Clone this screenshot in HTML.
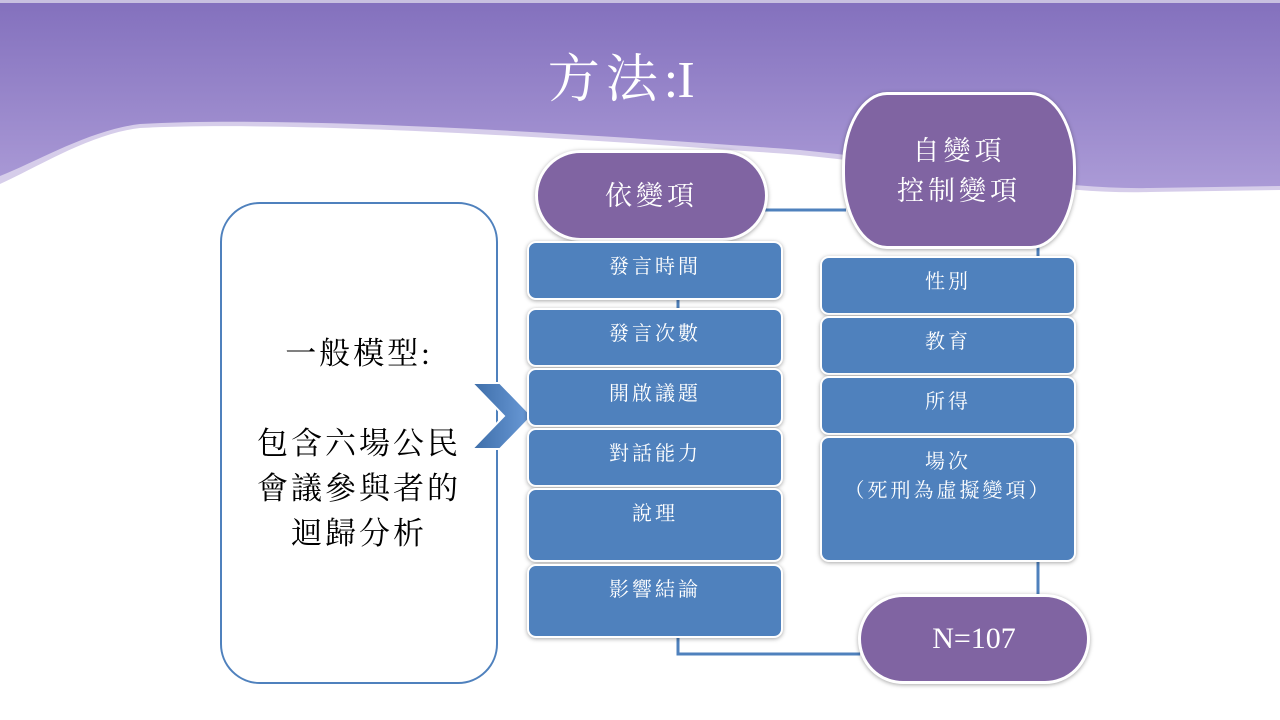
<!DOCTYPE html>
<html><head><meta charset="utf-8"><style>
body{margin:0;width:1280px;height:720px;overflow:hidden;background:#fff;font-family:"Liberation Serif","Noto Serif CJK SC",serif;}
.a{position:absolute;box-sizing:border-box;display:flex;justify-content:center;color:#fff;}
.p{background:#8064a2;border:3px solid #fff;box-shadow:0 1px 4px rgba(0,0,0,.35);align-items:center;text-align:center;font-size:27px;line-height:40px;letter-spacing:4px;}
.b{background:#4f81bd;border:2px solid #fff;border-radius:9px;box-shadow:0 1px 4px rgba(0,0,0,.35);align-items:flex-start;padding-top:10px;font-size:20px;line-height:29px;text-align:center;letter-spacing:3px;}
</style></head><body>
<svg width="1280" height="720" style="position:absolute;left:0;top:0">
<defs><linearGradient id="g" x1="0" y1="0" x2="0" y2="1"><stop offset="0" stop-color="#8370bd"/><stop offset="1" stop-color="#ad9dd8"/></linearGradient></defs>
<rect x="0" y="0" width="1280" height="200" fill="url(#g)"/>
<rect x="0" y="0" width="1280" height="3" fill="#c8c0e0"/>
<path d="M0,176 C40,160 90,130 140,124 C300,115 600,135 800,150 C950,165 1050,190 1150,188 L1280,186 L1280,720 L0,720 Z" fill="#d6cdea"/>
<path d="M0,184 C40,166 90,134 140,128 C300,120 600,140 800,155 C950,170 1050,195 1150,192 L1280,190 L1280,720 L0,720 Z" fill="#fff"/>
<g stroke="#4f81bd" stroke-width="3" fill="none">
<line x1="765" y1="210" x2="846" y2="210"/>
<line x1="1038" y1="245" x2="1038" y2="258"/>
<line x1="678" y1="298" x2="678" y2="310"/>
<polyline points="678,636 678,654 860,654"/>
<line x1="1038" y1="560" x2="1038" y2="596"/>
</g>
<text x="616" y="97" fill="#fff" font-size="52" text-anchor="middle" letter-spacing="6" font-family="Liberation Serif,Noto Serif CJK SC,serif">方法:</text>
<text x="686" y="97" fill="#fff" font-size="52" text-anchor="middle" font-family="Liberation Serif,serif">I</text>
</svg>
<div class="a" style="left:220px;top:202px;width:278px;height:482px;border:2.5px solid #4f81bd;border-radius:40px;background:#fff;color:#000;align-items:center;font-size:31px;line-height:45px;text-align:center;letter-spacing:3px;">一般模型:<br><br>包含六場公民<br>會議參與者的<br>迴歸分析</div>
<svg width="80" height="80" style="position:absolute;left:462px;top:376px">
<defs><linearGradient id="c" x1="0" y1="0" x2="1" y2="0"><stop offset="0" stop-color="#3d6da8"/><stop offset="1" stop-color="#6b9bd8"/></linearGradient></defs>
<polygon points="10,7 38,7 70,40 38,73 10,73 42,40" fill="url(#c)" stroke="#fff" stroke-width="2"/>
</svg>
<div class="a p" style="left:535px;top:150px;width:233px;height:91px;border-radius:46px;">依變項</div>
<div class="a p" style="left:842px;top:92px;width:234px;height:157px;border-radius:45px / 75px;">自變項<br>控制變項</div>
<div class="a p" style="left:858px;top:594px;width:232px;height:90px;border-radius:45px;font-family:'Liberation Serif',serif;font-size:30px;letter-spacing:0;">N=107</div>
<div class="a b" style="left:527px;top:241px;width:256px;height:59px;">發言時間</div>
<div class="a b" style="left:527px;top:308px;width:256px;height:59px;">發言次數</div>
<div class="a b" style="left:527px;top:368px;width:256px;height:59px;">開啟議題</div>
<div class="a b" style="left:527px;top:428px;width:256px;height:59px;">對話能力</div>
<div class="a b" style="left:527px;top:488px;width:256px;height:74px;">說理</div>
<div class="a b" style="left:527px;top:564px;width:256px;height:74px;">影響結論</div>
<div class="a b" style="left:820px;top:256px;width:256px;height:59px;">性別</div>
<div class="a b" style="left:820px;top:316px;width:256px;height:59px;">教育</div>
<div class="a b" style="left:820px;top:376px;width:256px;height:59px;">所得</div>
<div class="a b" style="left:820px;top:436px;width:256px;height:126px;">場次<br>（死刑為虛擬變項）</div>
</body></html>
